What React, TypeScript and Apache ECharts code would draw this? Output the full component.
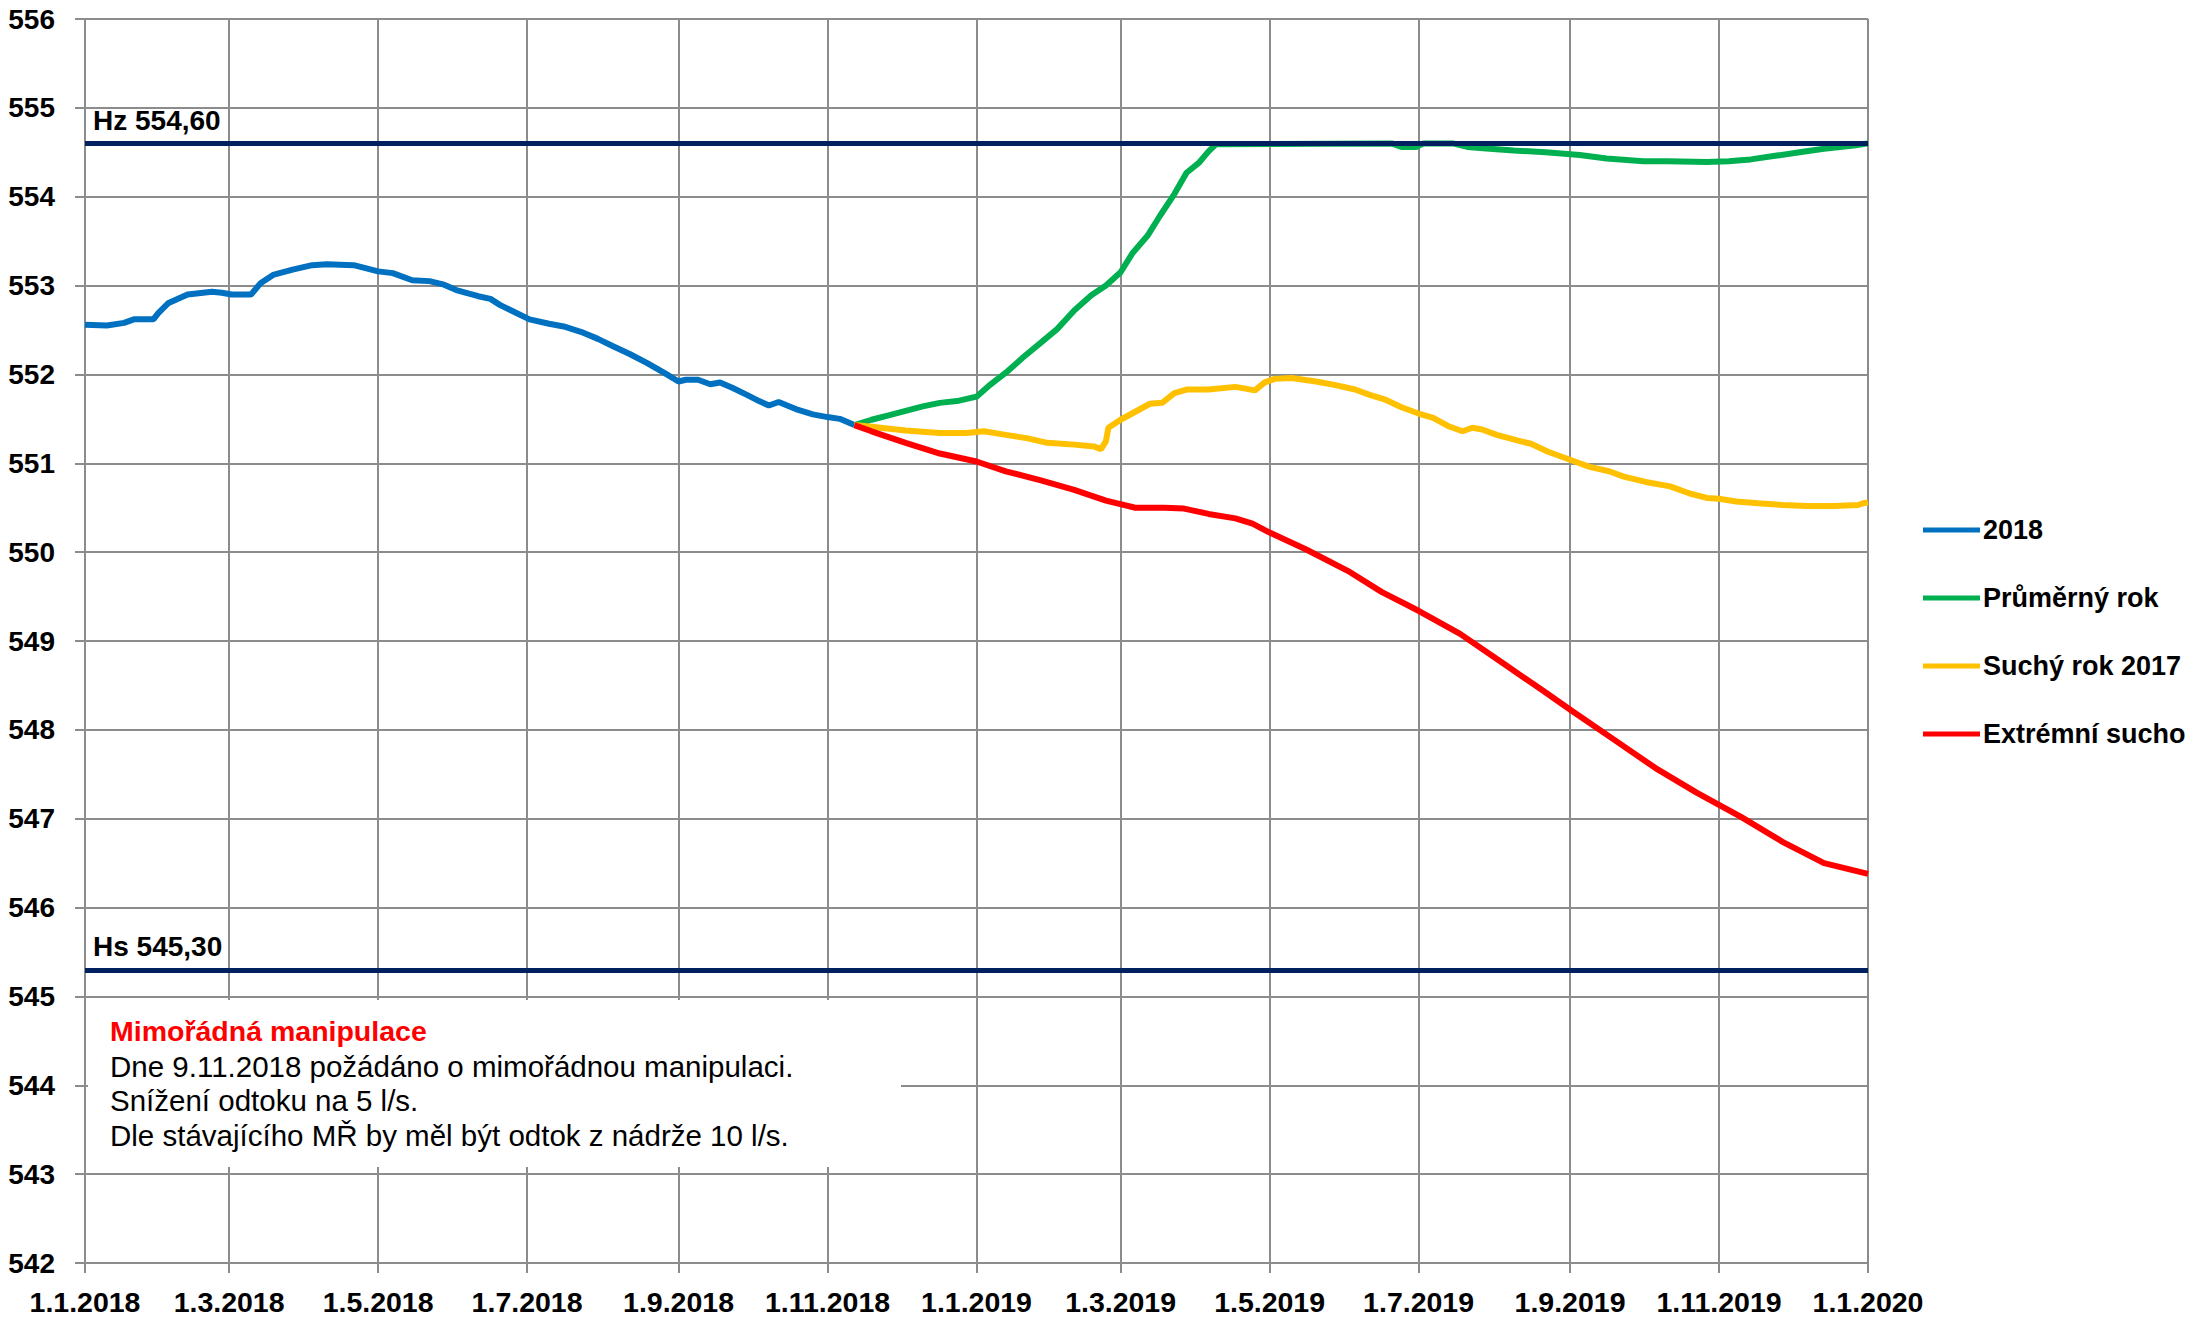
import React, { useEffect, useRef } from 'react';
import * as echarts from 'echarts';

const FONT = '"Liberation Sans", Arial, sans-serif';

// x axis: days since 1.1.2018
const tickDays = [0, 59, 120, 181, 243, 304, 365, 424, 485, 546, 608, 669, 730];
const tickLabels = ['1.1.2018', '1.3.2018', '1.5.2018', '1.7.2018', '1.9.2018', '1.11.2018',
  '1.1.2019', '1.3.2019', '1.5.2019', '1.7.2019', '1.9.2019', '1.11.2019', '1.1.2020'];

const seriesNames = ['2018', 'Průměrný rok', 'Suchý rok 2017', 'Extrémní sucho'];
const seriesColors = ['#0070C0', '#00B050', '#FFC000', '#FF0000'];

const days2018 = [0, 9, 16, 20, 28, 30, 34, 42, 52, 56, 60, 68, 72, 77, 85, 93, 99, 110, 120, 126, 134, 141, 147, 152, 161, 166, 170, 176, 182, 190, 196, 203, 210, 216, 223, 230, 237, 243, 246, 251, 256, 260, 265, 271, 276, 280, 284, 292, 298, 304, 309, 315];
const values2018 = [552.56, 552.55, 552.58, 552.62, 552.62, 552.69, 552.80, 552.90, 552.93, 552.92, 552.90, 552.90, 553.03, 553.12, 553.18, 553.23, 553.24, 553.23, 553.16, 553.14, 553.06, 553.05, 553.01, 552.95, 552.88, 552.85, 552.78, 552.70, 552.62, 552.57, 552.54, 552.48, 552.40, 552.32, 552.23, 552.13, 552.02, 551.92, 551.94, 551.94, 551.89, 551.91, 551.85, 551.77, 551.70, 551.65, 551.69, 551.60, 551.55, 551.52, 551.50, 551.43];

const daysAvg = [315, 322, 329, 336, 343, 350, 357, 365, 370, 377, 384, 391, 398, 405, 412, 418, 424, 429, 435, 440, 446, 451, 456, 460, 463, 535, 539, 545, 548, 560, 566, 575, 585, 598, 612, 623, 638, 648, 664, 673, 682, 692, 702, 712, 725, 730];
const valuesAvg = [551.43, 551.49, 551.54, 551.59, 551.64, 551.68, 551.70, 551.75, 551.87, 552.02, 552.19, 552.35, 552.51, 552.72, 552.89, 553.00, 553.15, 553.37, 553.56, 553.78, 554.03, 554.27, 554.38, 554.51, 554.59, 554.60, 554.56, 554.56, 554.60, 554.60, 554.56, 554.54, 554.52, 554.50, 554.47, 554.43, 554.40, 554.40, 554.39, 554.40, 554.42, 554.46, 554.50, 554.54, 554.58, 554.60];

const daysDry = [315, 322, 336, 350, 361, 368, 377, 386, 394, 405, 413, 416, 418, 419, 424, 430, 436, 441, 446, 451, 460, 471, 479, 483, 487, 494, 504, 512, 520, 526, 532, 539, 546, 552, 558, 564, 568, 572, 578, 586, 592, 599, 608, 616, 624, 630, 639, 649, 657, 664, 669, 676, 685, 695, 705, 716, 726, 728, 730];
const valuesDry = [551.43, 551.41, 551.37, 551.34, 551.34, 551.36, 551.32, 551.28, 551.23, 551.21, 551.19, 551.16, 551.25, 551.40, 551.49, 551.58, 551.67, 551.68, 551.79, 551.83, 551.83, 551.86, 551.82, 551.91, 551.95, 551.96, 551.92, 551.88, 551.83, 551.77, 551.72, 551.63, 551.56, 551.51, 551.42, 551.36, 551.40, 551.38, 551.32, 551.26, 551.22, 551.13, 551.04, 550.96, 550.91, 550.85, 550.79, 550.74, 550.66, 550.61, 550.60, 550.57, 550.55, 550.53, 550.52, 550.52, 550.53, 550.55, 550.56];

const daysExtreme = [315, 322, 336, 350, 365, 377, 391, 405, 418, 430, 442, 450, 460, 471, 478, 485, 500, 517, 531, 546, 563, 580, 597, 609, 626, 643, 660, 678, 695, 712, 730];
const valuesExtreme = [551.43, 551.36, 551.23, 551.11, 551.02, 550.91, 550.81, 550.70, 550.58, 550.50, 550.50, 550.49, 550.43, 550.38, 550.32, 550.22, 550.03, 549.79, 549.55, 549.34, 549.08, 548.76, 548.44, 548.21, 547.89, 547.57, 547.29, 547.02, 546.74, 546.50, 546.38];

const limitValues = [554.6, 545.3];
const limitLabels = ['Hz 554,60', 'Hs 545,30'];

const noteTitle = 'Mimořádná manipulace';
const noteLines = [
  'Dne 9.11.2018 požádáno o mimořádnou manipulaci.',
  'Snížení odtoku na 5 l/s.',
  'Dle stávajícího MŘ by měl být odtok z nádrže 10 l/s.',
];

const seriesDays = [days2018, daysAvg, daysDry, daysExtreme];
const seriesValues = [values2018, valuesAvg, valuesDry, valuesExtreme];

const zip = (d: number[], v: number[]) => d.map((x, i) => [x, v[i]]);

export default function App() {
  const ref = useRef<HTMLDivElement>(null);
  useEffect(() => {
    const chart = echarts.init(ref.current!, null, { renderer: 'svg' });
    const gridColor = '#8c8c8c';
    const option: any = {
      animation: false,
      backgroundColor: '#ffffff',
      grid: { left: 85, right: 331, top: 19, bottom: 54, containLabel: false },
      xAxis: {
        type: 'value',
        min: 0,
        max: 730,
        axisLine: { show: true, lineStyle: { color: gridColor, width: 2 } },
        axisTick: { show: true, length: 10, customValues: tickDays, lineStyle: { color: gridColor, width: 2 } },
        axisLabel: {
          show: true,
          customValues: tickDays,
          margin: 24,
          fontSize: 28.5,
          fontWeight: 'bold',
          fontFamily: FONT,
          color: '#000',
          formatter: (v: number) => {
            const i = tickDays.indexOf(Math.round(v));
            return i >= 0 ? tickLabels[i] : '';
          },
        },
        splitLine: { show: true, lineStyle: { color: gridColor, width: 2 } },
      },
      yAxis: {
        type: 'value',
        min: 542,
        max: 556,
        interval: 1,
        axisLine: { show: true, lineStyle: { color: gridColor, width: 2 } },
        axisTick: { show: true, length: 10, lineStyle: { color: gridColor, width: 2 } },
        axisLabel: { margin: 30, fontSize: 28, fontWeight: 'bold', fontFamily: FONT, color: '#000' },
        splitLine: { show: true, lineStyle: { color: gridColor, width: 2 } },
      },
      legend: {
        data: seriesNames,
        orient: 'vertical',
        left: 1923,
        top: 513,
        padding: 0,
        icon: 'rect',
        itemWidth: 57,
        itemHeight: 5,
        itemGap: 34,
        selectedMode: false,
        textStyle: { fontSize: 27, fontWeight: 'bold', fontFamily: FONT, color: '#000', lineHeight: 34, padding: [0, 0, 0, -2] },
      },
      series: [
        ...seriesNames.map((name, i) => ({
          name,
          type: 'line',
          data: zip(seriesDays[i], seriesValues[i]),
          symbol: 'none',
          showSymbol: false,
          color: seriesColors[i],
          itemStyle: { color: seriesColors[i] },
          lineStyle: { color: seriesColors[i], width: 6 },
          z: 2 + i,
          silent: true,
        })),
        {
          name: 'limits',
          type: 'line',
          data: [],
          silent: true,
          markLine: {
            silent: true,
            symbol: ['none', 'none'],
            z: 10,
            lineStyle: { color: '#002060', width: 5, type: 'solid' },
            label: {
              show: true,
              position: 'insideStartTop',
              formatter: '{b}',
              fontSize: 28,
              fontWeight: 'bold',
              fontFamily: FONT,
              color: '#000',
              distance: [8, 9],
            },
            emphasis: { disabled: true },
            data: limitValues.map((v, i) => ({ yAxis: v, name: limitLabels[i] })),
          },
        },
      ],
      graphic: [
        { type: 'rect', x: 88, y: 1000, z: 20, shape: { width: 813, height: 167 }, style: { fill: '#ffffff' } },
        {
          type: 'text', x: 110, y: 1031, z: 21,
          style: { text: noteTitle, fill: '#FF0000', fontSize: 28.5, fontWeight: 'bold', fontFamily: FONT, verticalAlign: 'middle' },
        },
        ...noteLines.map((t, i) => ({
          type: 'text', x: 110, y: 1066 + i * 34.5, z: 21,
          style: { text: t, fill: '#000', fontSize: 29.5, fontFamily: FONT, verticalAlign: 'middle' },
        })),
      ],
    };
    chart.setOption(option);
    return () => chart.dispose();
  }, []);
  return <div ref={ref} style={{ position: 'absolute', left: 0, top: 0, width: 2199, height: 1317 }} />;
}
